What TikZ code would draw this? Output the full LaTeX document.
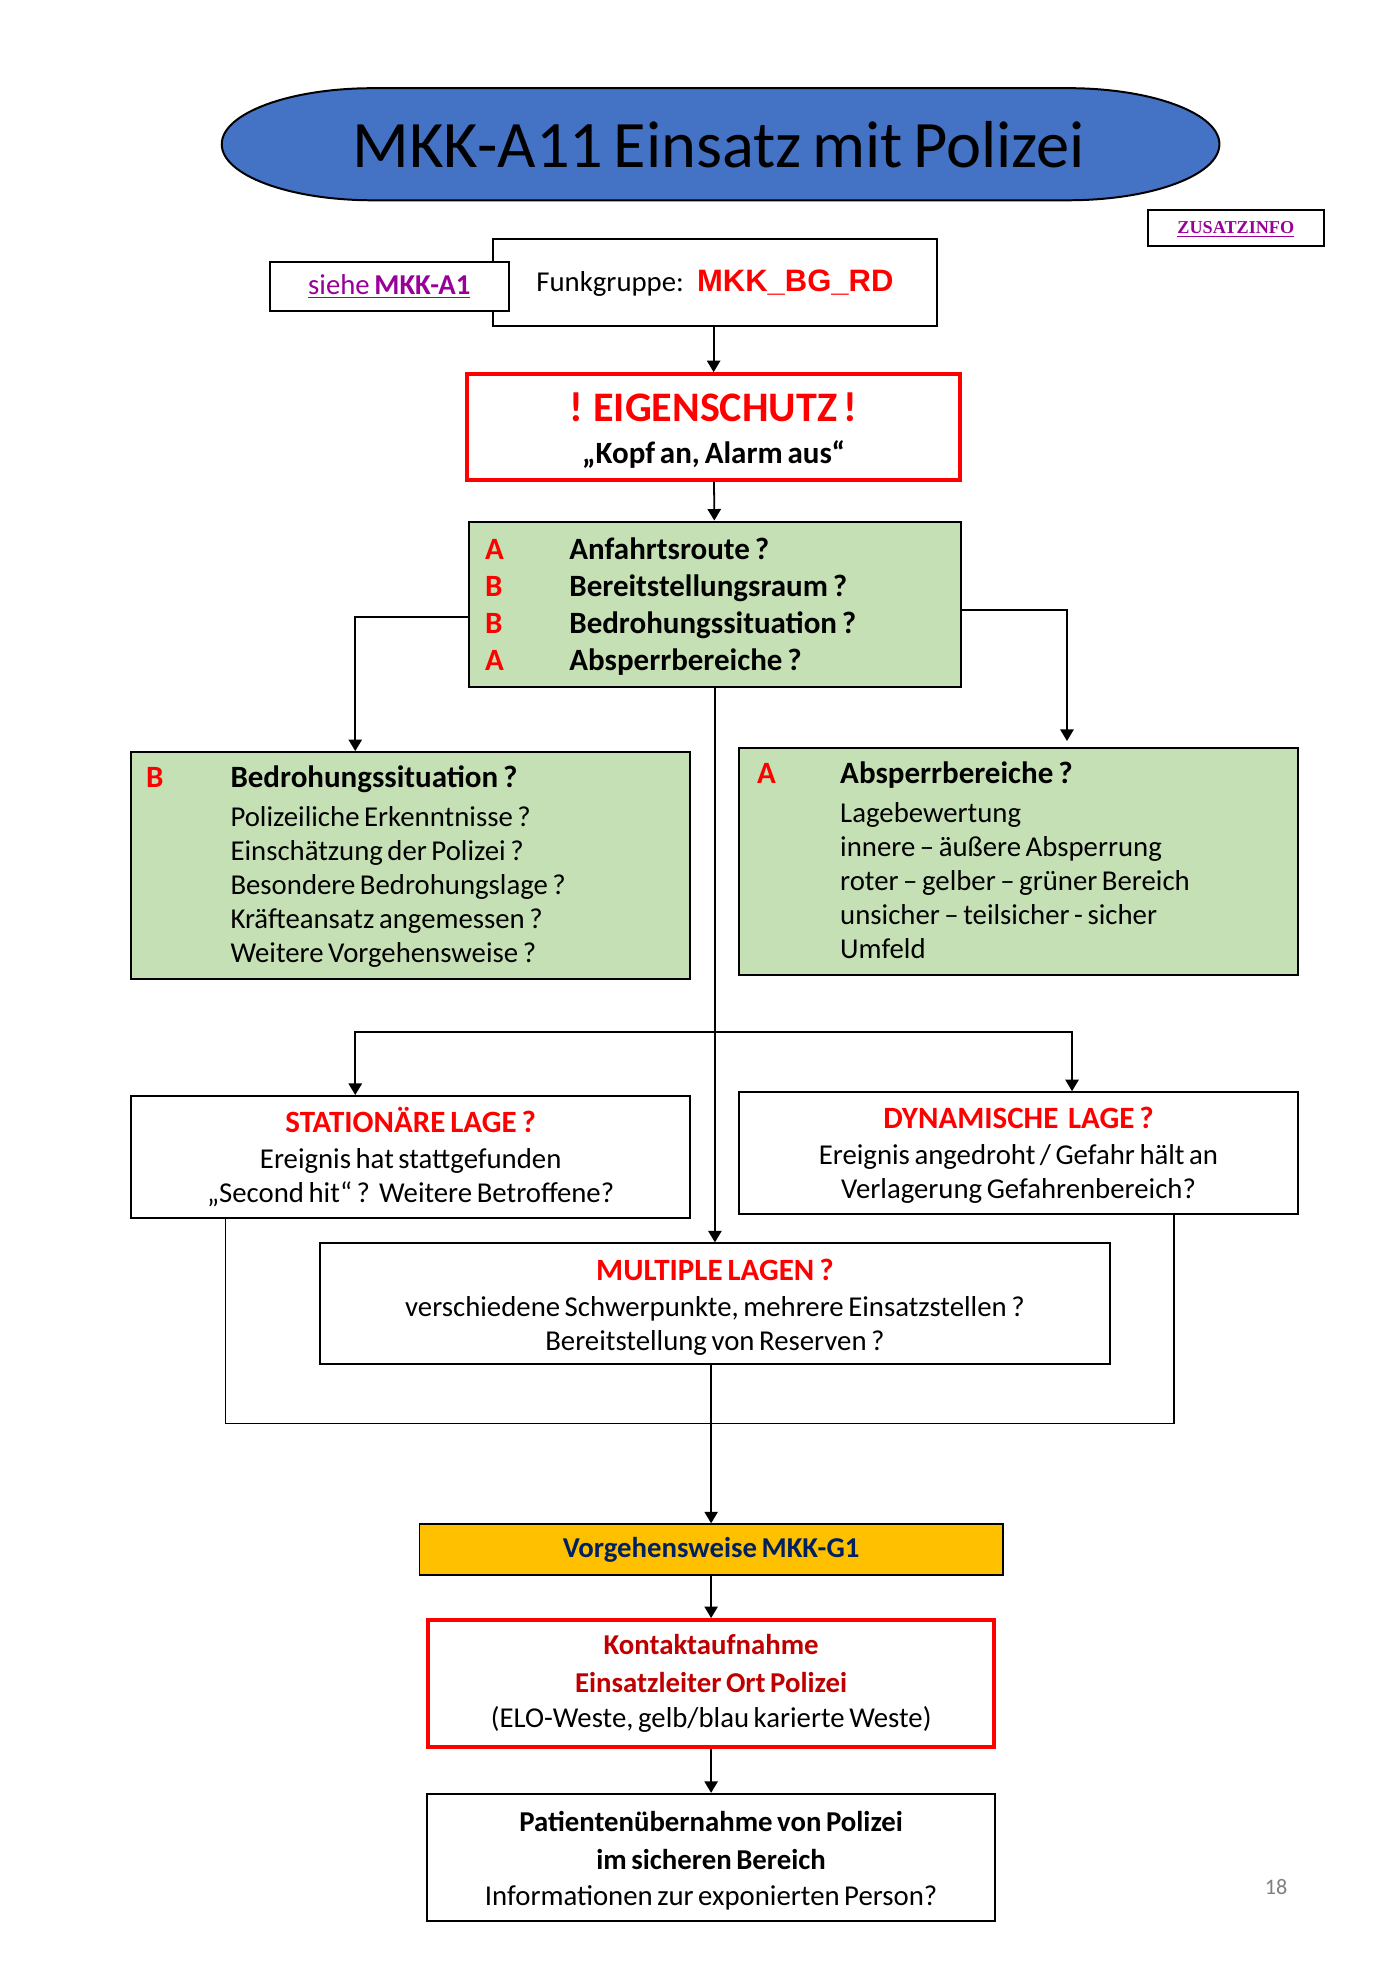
\documentclass[tikz,border=0pt]{standalone}
\usepackage{fontspec}
\setmainfont{Carlito}[WordSpace=0.7]
\newfontfamily\arialfont{Liberation Sans}
\newfontfamily\timesfont{Liberation Serif}
\usetikzlibrary{arrows.meta}

\definecolor{titleblue}{HTML}{4472C4}
\definecolor{boxgreen}{HTML}{C5E0B4}
\definecolor{boxorange}{HTML}{FFC000}
\definecolor{darkred}{HTML}{C00000}
\definecolor{navyblue}{HTML}{002060}
\definecolor{linkpurple}{HTML}{990099}
\definecolor{pagegray}{HTML}{7F7F7F}

\def\unitpx{0.02cm}
\newcommand{\toppad}[1]{\rule{0pt}{#1}}

\tikzset{
  boxsize/.style 2 args={minimum width=#1*\unitpx, minimum height=#2*\unitpx},
  box/.style={draw, line width=0.9pt, fill=white, inner sep=0pt, align=center,
    font=\fontsize{13}{15.4}\selectfont},
  greenbox/.style={box, fill=boxgreen, align=left},
  redbox/.style={box, draw=red, line width=1.8pt},
  arr/.style={-{Triangle[length=5.2pt,width=6pt]}, line width=0.8pt},
  conn/.style={line width=0.8pt},
}

\begin{document}
\begin{tikzpicture}[x=0.02cm, y=-0.02cm]
  \useasboundingbox (0,0) rectangle (1111,1567);

  % title
  \draw[line width=0.9pt, fill=titleblue] (296,70) -- (848,70)
    arc[start angle=90, end angle=-90, x radius=2.4cm, y radius=0.89cm] -- (296,159)
    arc[start angle=270, end angle=90, x radius=2.4cm, y radius=0.89cm] -- cycle;
  \node[font=\fontsize{30}{36}\selectfont] (title) at (570.5,114.5) {MKK-A11 Einsatz mit Polizei};

  \node[box, boxsize={140}{28}] (zusatz) at (981,181)
    {\timesfont\bfseries\fontsize{8.2}{9}\selectfont\color{linkpurple}\underline{ZUSATZINFO}\rule{0pt}{7pt}};

  % Funkgruppe
  \node[box, boxsize={353}{69}] (funk) at (567.5,224.5)
    {Funkgruppe:\hspace{6pt}{\arialfont\bfseries\fontsize{14}{16}\selectfont\color{red}MKK\_BG\_RD}};
  \node[box, boxsize={190}{39}] (siehe) at (309,227.5)
    {\color{linkpurple}\underline{siehe \textbf{MKK-A1}}};

  \node[redbox, boxsize={391}{84}] (eigen) at (566.5,339)
    {{\fontsize{19}{22}\selectfont\bfseries\color{red}\toppad{16pt}! EIGENSCHUTZ !}\\[3.5pt]
     {\fontsize{14}{16}\selectfont\bfseries „Kopf an, Alarm aus“}};

  % ABBA
  \node[greenbox, boxsize={391}{131}, text width=365*\unitpx,
    font=\fontsize{14}{16.7}\selectfont\bfseries] (abba) at (567.5,479.5)
    {\spaceskip=0pt\xspaceskip=0pt
     \begin{tabular}{@{}p{1.34cm}@{}l@{}}
      \textcolor{red}{A}\toppad{15.1pt} & Anfahrtsroute ?\\
      \textcolor{red}{B} & Bereitstellungsraum ?\\
      \textcolor{red}{B} & Bedrohungssituation ?\\
      \textcolor{red}{A} & Absperrbereiche ?
     \end{tabular}};

  \node[greenbox, boxsize={444}{180}, text width=420*\unitpx] (bbox) at (326,687)
    {\spaceskip=0pt\xspaceskip=0pt
     \begin{tabular}{@{}p{1.34cm}@{}l@{}}
      \textcolor{red}{\fontsize{14}{16}\selectfont\bfseries B}\toppad{13.1pt} & {\fontsize{14}{16}\selectfont\bfseries Bedrohungssituation ?}\\[2.2pt]
      & Polizeiliche Erkenntnisse ?\\
      & Einschätzung der Polizei ?\\
      & Besondere Bedrohungslage ?\\
      & Kräfteansatz angemessen ?\\
      & Weitere Vorgehensweise ?
     \end{tabular}};

  \node[greenbox, boxsize={443}{180}, text width=415*\unitpx] (abox) at (808.5,684)
    {\spaceskip=0pt\xspaceskip=0pt
     \begin{tabular}{@{}p{1.32cm}@{}l@{}}
      \textcolor{red}{\fontsize{14}{16}\selectfont\bfseries A}\toppad{13.1pt} & {\fontsize{14}{16}\selectfont\bfseries Absperrbereiche ?}\\[2.2pt]
      & Lagebewertung\\
      & innere – äußere Absperrung\\
      & roter – gelber – grüner Bereich\\
      & unsicher – teilsicher - sicher\\
      & Umfeld
     \end{tabular}};

  % Lagen
  \node[box, boxsize={444}{97}] (stat) at (326,918.5)
    {{\fontsize{14}{16}\selectfont\bfseries\color{red}\toppad{11pt}STATIONÄRE LAGE ?}\\[1.1pt]
     Ereignis hat stattgefunden\\
     „Second hit“ ?~~Weitere Betroffene?};
  \node[box, boxsize={443}{97}] (dyn) at (808.5,915.5)
    {{\fontsize{14}{16}\selectfont\bfseries\color{red}\toppad{11.5pt}DYNAMISCHE~~LAGE ?}\\[1.1pt]
     Ereignis angedroht / Gefahr hält an\\
     Verlagerung Gefahrenbereich?};
  \node[box, boxsize={627}{96}] (multi) at (567.5,1035)
    {{\fontsize{14}{16}\selectfont\bfseries\color{red}\toppad{12.8pt}MULTIPLE LAGEN ?}\\[1.1pt]
     verschiedene Schwerpunkte, mehrere Einsatzstellen ?\\
     Bereitstellung von Reserven ?};

  \node[box, fill=boxorange, boxsize={463}{40}] (vorg) at (564.5,1230)
    {\bfseries\color{navyblue}Vorgehensweise MKK-G1};

  \node[redbox, boxsize={449}{101}, font=\fontsize{13}{16}\selectfont] (kontakt) at (564.5,1336.5)
    {{\bfseries\color{darkred}Kontaktaufnahme}\\[1.1pt]
     {\bfseries\color{darkred}Einsatzleiter Ort Polizei}\\
     (ELO-Weste, gelb/blau karierte Weste)};

  \node[box, boxsize={451}{101}, font=\fontsize{13}{16}\selectfont] (patient) at (564.5,1474.5)
    {{\bfseries\toppad{12.1pt}Patientenübernahme von Polizei}\\[1.1pt]
     {\bfseries im sicheren Bereich}\\
     Informationen zur exponierten Person?};

  \node[text=pagegray, font=\fontsize{10}{12}\selectfont] (page) at (1013,1498) {18};

  % connectors
  \draw[arr] (funk.south -| eigen.north) -- (eigen.north);
  \draw[arr] (eigen) -- (abba);
  \draw[arr] ([yshift=-10.5*\unitpx]abba.west) -| ([xshift=-44*\unitpx]bbox.north);
  \draw[arr, shorten >=0.1cm] ([yshift=-4.5*\unitpx]abba.east) -| ([xshift=38.5*\unitpx]abox.north);
  \draw[arr] (abba.south) -- (abba.south |- multi.north);

  \coordinate (split) at (567.5,819);
  \draw[arr] (split) -| ([xshift=-44*\unitpx]stat.north);
  \draw[arr] (split) -| ([xshift=42.5*\unitpx]dyn.north);

  \coordinate (merge) at (564.5,1130);
  \draw[conn] ([xshift=-147*\unitpx]stat.south) |- (merge) -| ([xshift=123.5*\unitpx]dyn.south);
  \draw[arr] (multi.south -| vorg.north) -- (vorg.north);
  \draw[arr] (vorg) -- (kontakt);
  \draw[arr] (kontakt) -- (patient);
\end{tikzpicture}
\end{document}
